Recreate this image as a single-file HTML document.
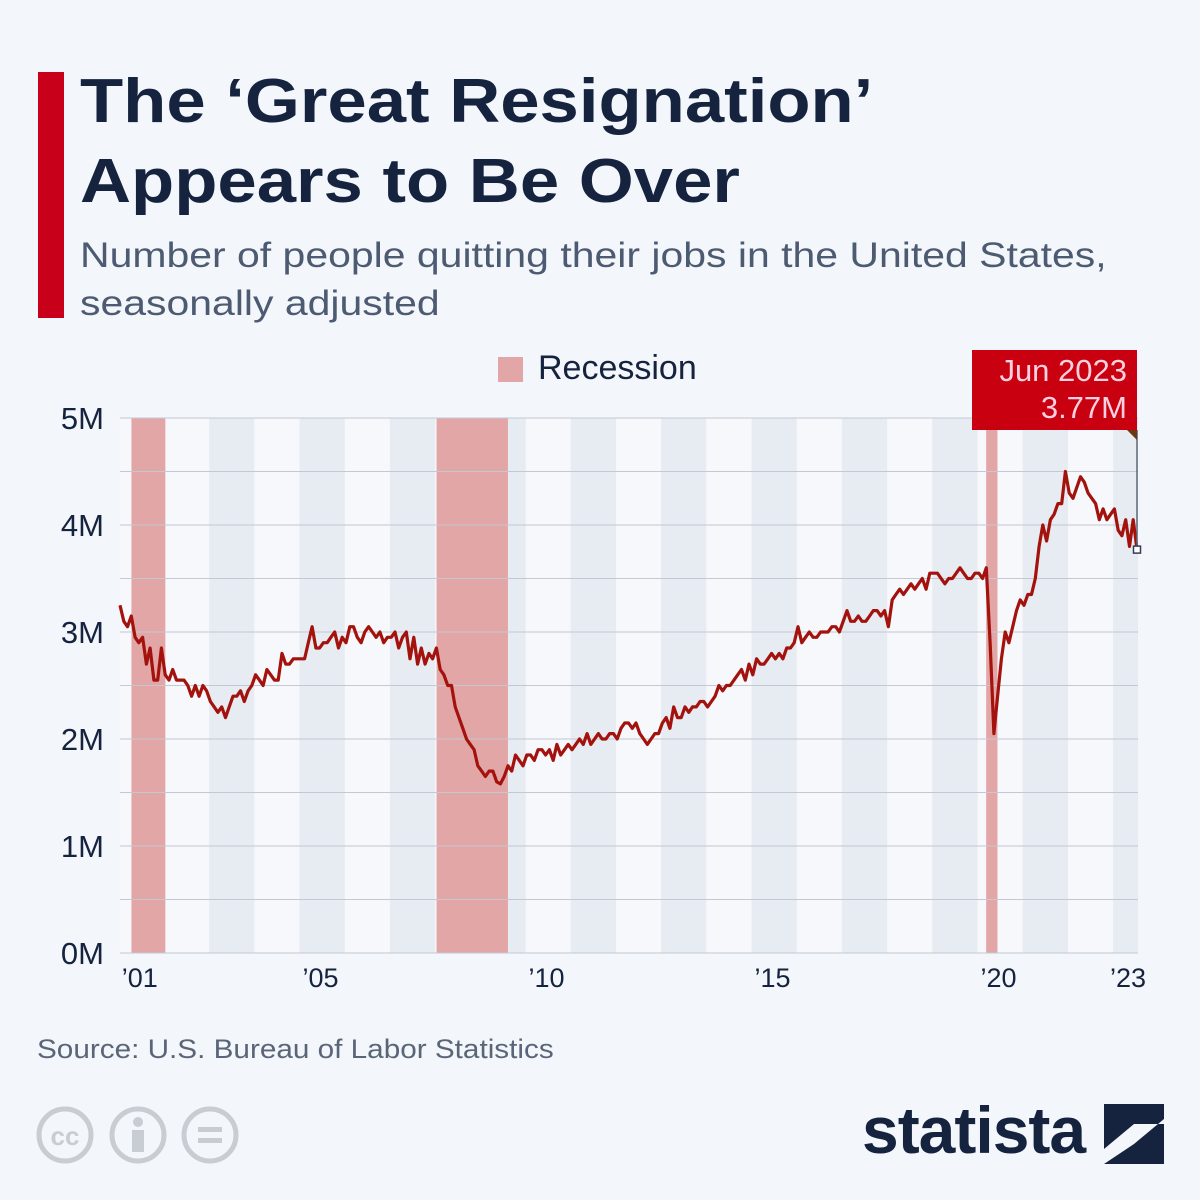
<!DOCTYPE html>
<html><head><meta charset="utf-8">
<style>
body{margin:0;width:1200px;height:1200px;background:#f3f6fa;font-family:"Liberation Sans",sans-serif;overflow:hidden;position:relative}
.abs{position:absolute}
</style></head><body>
<div class="abs" style="left:38px;top:72px;width:26px;height:246px;background:#c8001a"></div>
<div class="abs" style="left:80px;top:62px;font-size:62px;font-weight:bold;color:#15233f;line-height:80px;transform:scaleX(1.14);transform-origin:0 0;white-space:nowrap">The ‘Great Resignation’<br>Appears to Be Over</div>
<div class="abs" style="left:80px;top:232px;font-size:35px;color:#4d5b72;line-height:48px;transform:scaleX(1.17);transform-origin:0 0;white-space:nowrap">Number of people quitting their jobs in the United States,<br>seasonally adjusted</div>
<div class="abs" style="left:498px;top:357px;width:25px;height:25px;background:#e3a6a6"></div>
<div class="abs" style="left:538px;top:349px;font-size:34px;color:#15233f">Recession</div>
<svg class="abs" style="left:0;top:0" width="1200" height="1200" id="chart"></svg>
<div class="abs" style="left:37px;top:1034px;font-size:27px;color:#5a6678;transform:scaleX(1.1);transform-origin:0 0;white-space:nowrap">Source: U.S. Bureau of Labor Statistics</div>
<svg class="abs" style="left:30px;top:1100px" width="220" height="70">
<circle cx="35" cy="35" r="26" fill="none" stroke="#c8ccd3" stroke-width="5"/><text x="35" y="45" font-size="26" font-weight="bold" text-anchor="middle" fill="#c8ccd3" font-family="Liberation Sans">cc</text>
<circle cx="108" cy="35" r="26" fill="none" stroke="#c8ccd3" stroke-width="5"/><circle cx="108" cy="22" r="5" fill="#c8ccd3"/><rect x="102" y="30" width="12" height="22" fill="#c8ccd3"/>
<circle cx="180" cy="35" r="26" fill="none" stroke="#c8ccd3" stroke-width="5"/><rect x="168" y="27" width="24" height="5" fill="#c8ccd3"/><rect x="168" y="38" width="24" height="5" fill="#c8ccd3"/>
</svg>
<div class="abs" style="left:862px;top:1092px;font-size:66px;font-weight:bold;color:#15233f;letter-spacing:-1px">statista</div>
<svg class="abs" style="left:1104px;top:1104px" width="60" height="60"><rect width="60" height="60" fill="#15233f"/><path d="M0 45 L30 20 L60 20 L60 0 L60 15 L30 40 L0 60Z" fill="#f3f6fa"/></svg>
<script>
const yTicks=[0,1,2,3,4,5];
const yTickLabels=["0M","1M","2M","3M","4M","5M"];
const xTickYears=[2001,2005,2010,2015,2020,2023];
const xTickLabels=["’01","’05","’10","’15","’20","’23"];
const recessions=[[2001.17,2001.92],[2007.92,2009.5],[2020.08,2020.33]];
const startYear=2000.917;
const quits=[3.25,
3.1,3.05,3.15,2.95,2.9,2.95,2.7,2.85,2.55,2.55,2.85,2.6,
2.55,2.65,2.55,2.55,2.55,2.5,2.4,2.5,2.4,2.5,2.45,2.35,
2.3,2.25,2.3,2.2,2.3,2.4,2.4,2.45,2.35,2.45,2.5,2.6,
2.55,2.5,2.65,2.6,2.55,2.55,2.8,2.7,2.7,2.75,2.75,2.75,
2.75,2.9,3.05,2.85,2.85,2.9,2.9,2.95,3.0,2.85,2.95,2.9,
3.05,3.05,2.95,2.9,3.0,3.05,3.0,2.95,3.0,2.9,2.95,2.95,
3.0,2.85,2.95,3.0,2.75,2.95,2.7,2.85,2.7,2.8,2.75,2.85,
2.65,2.6,2.5,2.5,2.3,2.2,2.1,2.0,1.95,1.9,1.75,1.7,
1.65,1.7,1.7,1.6,1.58,1.65,1.75,1.7,1.85,1.8,1.75,1.85,
1.85,1.8,1.9,1.9,1.85,1.9,1.8,1.95,1.85,1.9,1.95,1.9,
1.95,2.0,1.95,2.05,1.95,2.0,2.05,2.0,2.0,2.05,2.05,2.0,
2.1,2.15,2.15,2.1,2.15,2.05,2.0,1.95,2.0,2.05,2.05,2.15,
2.2,2.1,2.3,2.2,2.2,2.3,2.25,2.3,2.3,2.35,2.35,2.3,
2.35,2.4,2.5,2.45,2.5,2.5,2.55,2.6,2.65,2.55,2.7,2.6,
2.75,2.7,2.7,2.75,2.8,2.75,2.8,2.75,2.85,2.85,2.9,3.05,
2.9,2.95,3.0,2.95,2.95,3.0,3.0,3.0,3.05,3.05,3.0,3.1,
3.2,3.1,3.1,3.15,3.1,3.1,3.15,3.2,3.2,3.15,3.2,3.05,
3.3,3.35,3.4,3.35,3.4,3.45,3.4,3.45,3.5,3.4,3.55,3.55,
3.55,3.5,3.45,3.5,3.5,3.55,3.6,3.55,3.5,3.5,3.55,3.55,
3.5,3.6,2.9,2.05,2.4,2.75,3.0,2.9,3.05,3.2,3.3,3.25,
3.35,3.35,3.5,3.8,4.0,3.85,4.05,4.1,4.2,4.2,4.5,4.3,
4.25,4.35,4.45,4.4,4.3,4.25,4.2,4.05,4.15,4.05,4.1,4.15,
3.95,3.9,4.05,3.8,4.05,3.77];
const L=120,R=1138,T=418,B=953;
const x=t=>120+(t-startYear)*45.2;
const y=v=>B-(v/5)*(B-T);
const svg=document.getElementById('chart');
const NS='http://www.w3.org/2000/svg';
function mk(tag,attrs){const e=document.createElementNS(NS,tag);for(const k in attrs)e.setAttribute(k,attrs[k]);svg.appendChild(e);return e;}
const bg=mk('rect',{x:L,y:T,width:R-L,height:B-T,fill:'#f6f8fb'});


for(let yr=2003;yr<=2023;yr+=2){const x0=Math.max(L,x(yr)-5),x1=Math.min(R,x(yr+1)-5);
const b=mk('rect',{x:x0,y:T,width:x1-x0,height:B-T,fill:'#e7ebf2'});

}
recessions.forEach(r=>{const e=mk('rect',{x:x(r[0]),y:T,width:x(r[1])-x(r[0]),height:B-T,fill:'#e3a6a6'});

});
for(let v=0;v<=5;v+=0.5){const g=mk('line',{x1:L,x2:R,y1:y(v),y2:y(v),stroke:'#c3c8d2','stroke-width':1});

}
yTicks.forEach((v,i)=>{const t=mk('text',{x:104,y:y(v)+11,'text-anchor':'end','font-size':31,fill:'#15233f','font-family':'Liberation Sans'});t.textContent=yTickLabels[i];

});
xTickYears.forEach((yr,i)=>{const t=mk('text',{x:Math.min(x(yr)+16,1128),y:987,'text-anchor':'middle','font-size':27,fill:'#15233f','font-family':'Liberation Sans'});t.textContent=xTickLabels[i];

});
const pts=quits.map((v,i)=>x(startYear+i/12).toFixed(1)+','+y(v).toFixed(1)).join(' ');
const line=mk('polyline',{points:pts,fill:'none',stroke:'#a3120c','stroke-width':3.2,'stroke-linejoin':'round'});


const n=quits.length-1,lx=x(startYear+n/12),ly=y(quits[n]);
const vl=mk('line',{x1:lx,x2:lx,y1:430,y2:ly,stroke:'#5a6678','stroke-width':1.5});


const mkr=mk('rect',{x:lx-3.5,y:ly-3.5,width:7,height:7,fill:'#fff',stroke:'#3a3a5a','stroke-width':1.5});


const tb=mk('rect',{x:972,y:350,width:lx-972,height:80,fill:'#c8000f'});


const tri=mk('path',{d:`M${lx-10} 430 L${lx} 430 L${lx} 440Z`,fill:'#6b3a10'});


const t1=mk('text',{x:1127,y:381,'text-anchor':'end','font-size':31,fill:'#ffd0e0','font-family':'Liberation Sans'});t1.textContent='Jun 2023';


const t2=mk('text',{x:1127,y:418,'text-anchor':'end','font-size':31,fill:'#ffd0e0','font-family':'Liberation Sans'});t2.textContent=quits[n].toFixed(2)+'M';


</script>
</body></html>
